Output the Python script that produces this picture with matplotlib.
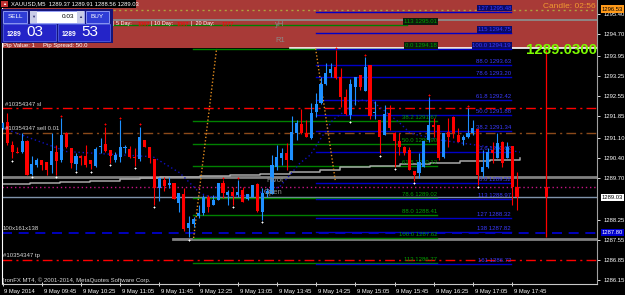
import matplotlib
matplotlib.use("Agg")
import matplotlib.pyplot as plt
from matplotlib.patches import Rectangle

plt.rcParams['font.family'] = ['Liberation Sans', 'DejaVu Sans']

W, H = 625, 295

# ---- XAUUSD M5 candles, bar 0 = 09:05 ----
opens = [1291.43, 1291.66, 1290.85, 1290.62, 1290.62, 1290.97, 1289.84, 1290.16, 1290.33, 1290.27,
         1290.16, 1290.62, 1290.33, 1291.26, 1290.73, 1290.19, 1290.47, 1290.47, 1290.33, 1290.12,
         1290.77, 1290.88, 1290.67, 1290.33, 1290.44, 1290.73, 1290.70, 1290.44, 1290.35, 1291.02,
         1290.77, 1290.35, 1289.35, 1289.63, 1289.46, 1289.52, 1288.85, 1289.15, 1287.96, 1288.10,
         1288.38, 1288.48, 1289.06, 1288.77, 1288.94, 1289.54, 1289.11, 1289.23, 1289.11, 1289.29,
         1288.96, 1289.06, 1289.50, 1288.54, 1289.15, 1289.15, 1290.10, 1290.39, 1290.58, 1290.33,
         1291.28, 1291.58, 1291.25, 1291.08, 1292.00, 1292.29, 1292.97, 1293.34, 1293.54, 1293.20,
         1292.50, 1291.89, 1292.85, 1293.28, 1292.73, 1293.62, 1291.97, 1291.72, 1291.20, 1291.95,
         1291.25, 1291.00, 1290.79, 1290.68, 1289.96, 1289.87, 1290.10, 1291.02, 1291.54, 1291.54,
         1290.44, 1291.31, 1291.83, 1291.20, 1291.02, 1291.14, 1291.25, 1291.39, 1289.92, 1290.10,
         1290.68, 1290.39, 1290.96, 1290.39, 1290.81, 1289.40]
highs = [1291.66, 1291.95, 1290.97, 1290.79, 1291.26, 1291.02, 1290.45, 1290.39, 1290.33, 1290.27,
         1291.26, 1290.85, 1291.78, 1291.31, 1290.73, 1290.56, 1290.50, 1290.85, 1290.33, 1290.79,
         1291.08, 1291.49, 1290.67, 1290.62, 1291.72, 1290.85, 1290.81, 1290.73, 1291.48, 1291.02,
         1290.77, 1290.35, 1289.75, 1289.75, 1289.75, 1289.52, 1289.17, 1289.34, 1288.38, 1288.36,
         1288.77, 1289.11, 1289.12, 1289.12, 1289.52, 1289.63, 1289.29, 1289.40, 1289.63, 1289.40,
         1289.15, 1289.46, 1289.52, 1289.34, 1289.35, 1290.50, 1290.85, 1290.73, 1290.93, 1291.86,
         1291.72, 1292.09, 1291.72, 1292.29, 1292.64, 1293.22, 1293.71, 1293.71, 1294.15, 1293.51,
         1292.78, 1293.13, 1293.22, 1293.28, 1293.89, 1293.62, 1292.38, 1291.72, 1292.24, 1292.24,
         1291.31, 1291.25, 1290.81, 1290.79, 1289.96, 1290.56, 1291.00, 1292.50, 1291.77, 1291.54,
         1291.25, 1291.77, 1291.85, 1291.43, 1291.20, 1292.12, 1291.72, 1291.39, 1290.68, 1290.75,
         1290.95, 1291.28, 1291.00, 1290.96, 1290.81, 1289.92]
lows = [1291.40, 1290.85, 1290.39, 1290.56, 1290.56, 1289.81, 1289.81, 1290.10, 1289.98, 1289.81,
        1289.87, 1289.81, 1290.27, 1290.73, 1290.04, 1289.98, 1290.16, 1290.10, 1290.00, 1290.10,
        1290.58, 1290.62, 1290.24, 1290.27, 1290.27, 1290.56, 1290.39, 1290.12, 1290.30, 1290.77,
        1290.21, 1288.77, 1288.92, 1289.26, 1289.35, 1288.96, 1288.54, 1287.87, 1287.64, 1288.01,
        1288.30, 1288.42, 1288.54, 1288.77, 1288.94, 1289.00, 1288.77, 1288.77, 1289.06, 1288.88,
        1288.94, 1289.06, 1288.54, 1288.25, 1289.05, 1289.15, 1289.98, 1290.15, 1289.98, 1290.33,
        1291.02, 1291.23, 1291.11, 1291.04, 1291.83, 1292.27, 1292.93, 1293.22, 1293.13, 1292.18,
        1291.89, 1291.74, 1292.24, 1292.76, 1292.73, 1291.74, 1291.74, 1290.56, 1291.20, 1291.37,
        1290.10, 1290.50, 1290.50, 1289.98, 1289.61, 1289.69, 1290.10, 1290.95, 1291.14, 1290.33,
        1290.39, 1290.79, 1291.08, 1290.96, 1290.85, 1291.08, 1291.20, 1289.46, 1289.75, 1290.04,
        1290.21, 1290.39, 1290.10, 1290.39, 1288.77, 1288.59]
closes = [1291.60, 1290.91, 1290.62, 1290.58, 1290.97, 1289.81, 1290.19, 1290.33, 1290.16, 1289.98,
          1290.64, 1290.29, 1291.20, 1290.77, 1290.21, 1290.47, 1290.41, 1290.16, 1290.19, 1290.70,
          1290.81, 1290.65, 1290.45, 1290.50, 1290.77, 1290.79, 1290.44, 1290.41, 1291.11, 1290.77,
          1290.39, 1289.35, 1289.69, 1289.43, 1289.52, 1288.96, 1289.17, 1287.92, 1288.13, 1288.27,
          1288.48, 1289.06, 1288.71, 1288.94, 1289.52, 1289.17, 1289.23, 1289.08, 1289.23, 1288.88,
          1289.15, 1289.46, 1288.57, 1289.19, 1289.25, 1290.15, 1290.44, 1290.56, 1290.33, 1291.31,
          1291.62, 1291.25, 1291.14, 1291.97, 1292.27, 1292.97, 1293.34, 1293.47, 1293.16, 1292.53,
          1291.92, 1292.97, 1293.22, 1292.85, 1293.57, 1291.85, 1291.98, 1291.14, 1291.92, 1291.43,
          1290.97, 1290.77, 1290.56, 1289.98, 1289.81, 1290.27, 1290.97, 1291.54, 1291.46, 1290.39,
          1291.25, 1291.14, 1291.25, 1290.96, 1291.14, 1291.26, 1291.43, 1289.81, 1290.10, 1290.62,
          1290.56, 1290.91, 1290.21, 1290.79, 1289.40, 1289.06]

# projected candle on the right
proj_bar = 111
proj_ohlc = (1289.39, 1294.15, 1287.66, 1289.04)

# fractal marks (bar indices)
frac_low = [2, 6, 11, 15, 18, 22, 27, 31, 38, 47, 53, 71, 77, 80, 84, 97]
frac_high = [12, 21, 24, 28, 45, 48, 68, 74, 87, 95]

# x labels every 8 bars
time_labels = ["9 May 2014", "9 May 09:45", "9 May 10:25", "9 May 11:05", "9 May 11:45",
               "9 May 12:25", "9 May 13:05", "9 May 13:45", "9 May 14:25", "9 May 15:05",
               "9 May 15:45", "9 May 16:25", "9 May 17:05", "9 May 17:45"]
price_ticks = [1295.40, 1294.70, 1293.95, 1293.25, 1292.55, 1291.85, 1291.10, 1290.40,
               1289.70, 1288.25, 1287.55, 1286.85, 1286.15]

# order / level lines
sl_price, entry_price, tp_price = 1292.12, 1291.25, 1286.86
bid_price, ask_price = 1289.03, 1289.53
pivot_price, open_price = 1289.75, 1289.39
low_line_price, blue_dash_price = 1287.59, 1287.80
header_low = 1294.21
yh_price, olive_price = 1295.19, 1295.53

# fibonacci sets
green_fib_lbl = ["113 1295.01", "0.0 1294.18", "38.2 1291.67", "50.0 1290.90", "61.8 1290.12",
                 "78.6 1289.02", "88.0 1288.41", "100.0 1287.62", "113 1286.77"]
green_fib_px = [1295.01, 1294.18, 1291.67, 1290.90, 1290.12, 1289.02, 1288.41, 1287.62, 1286.77]
blue_fib_lbl = ["127 1295.48", "115 1294.75", "100.0 1294.19", "88.0 1293.63", "78.6 1293.20",
                "61.8 1292.42", "50.0 1291.88", "38.2 1291.34", "23.6 1290.62", "0.0 1289.52",
                "113 1288.97", "127 1288.32", "138 1287.82", "161 1286.72"]
blue_fib_px = [1295.48, 1294.75, 1294.19, 1293.63, 1293.20, 1292.42, 1291.88, 1291.34, 1290.62,
               1289.52, 1288.97, 1288.32, 1287.82, 1286.72]

# indicator polylines (bar index, price)
dot_t = [0.2, 13.1, 30.7, 36.2, 40.3, 42.3, 50.5, 56.6, 60.7, 62.8, 67.4, 73, 75.6, 81.1, 83.2, 89.3, 99.5, 105.6]
dot_p = [1291.43, 1290.62, 1290.44, 1289.88, 1289.18, 1289.05, 1289.10, 1289.40, 1290.22, 1290.50,
         1291.72, 1292.41, 1292.35, 1291.61, 1291.26, 1291.02, 1290.78, 1290.60]
ma_t = [-0.1, 5.6, 11.7, 17.9, 24, 28.1, 32.1, 40.3, 46.4, 52.6, 58.7, 64.8, 68.9, 75, 81.1, 87.2, 93.4, 99.5, 105.6]
ma_p = [1289.49, 1289.53, 1289.56, 1289.60, 1289.67, 1289.70, 1289.74, 1289.77, 1289.81, 1289.84,
        1289.91, 1289.98, 1290.09, 1290.12, 1290.19, 1290.22, 1290.29, 1290.33, 1290.40]
zz1_t, zz1_p = [39.0, 43.7], [1287.62, 1294.20]
zz2_t, zz2_p = [63.9, 67.9], [1294.20, 1289.63]


def fx(px):
    return px / W


def fy(py):
    return 1 - py / H


fig = plt.figure(figsize=(W / 100, H / 100), dpi=100, facecolor='black')
ax = fig.add_axes([2 / W, 11 / H, 595 / W, 284 / H])
ax.set_facecolor('black')
x_lo, x_hi = (2 - 2.5) / 4.9, (597 - 2.5) / 4.9
ax.set_xlim(x_lo, x_hi)
ax.set_ylim(1286.025, 1295.88)

# header band
ax.axhspan(header_low, 1296.5, color='#a83a37', zorder=0.5, lw=0)
ax.axhline(olive_price, color='#b0a040', ls=(0, (1.5, 2.5)), lw=1, zorder=1)
ax.axhline(yh_price, color='#8c8c8c', lw=1.3, zorder=1)
ax.plot([58.7, x_hi], [header_low, header_low], color='white', lw=1.2, zorder=1)

# full width levels
dashdot = (0, (7, 3, 1.5, 3))
ax.axhline(sl_price, color='red', ls=dashdot, lw=1, zorder=1)
ax.axhline(entry_price, color='#8b4a1a', ls=dashdot, lw=1, zorder=1)
ax.axhline(tp_price, color='red', ls=dashdot, lw=1, zorder=1)
ax.axhline(pivot_price, color='#808080', lw=2, zorder=1)
ax.axhline(open_price, color='#c71585', ls=(0, (1, 2)), lw=1, zorder=1)
ax.axhline(bid_price, color='#7f93aa', lw=1, zorder=1)
ax.axhline(blue_dash_price, color='#0000dd', ls=(0, (6, 4)), lw=1.2, zorder=1)
ax.plot([34.8, x_hi], [low_line_price, low_line_price], color='#808080', lw=2, zorder=1)

# fib lines + labels
g_t0, g_t1 = 38.9, 88.7
for i, (lbl, p) in enumerate(zip(green_fib_lbl, green_fib_px)):
    t0 = x_lo if i == 0 else g_t0
    t1 = 82.5 if i == 0 else g_t1
    ax.plot([t0, t1], [p, p], color='#008000', lw=1, zorder=1.5)
    box = dict(fc='#0c1a0c', ec='none', pad=0.6) if p > header_low - 0.05 else None
    ax.text(g_t1, p + 0.03, lbl, ha='right', va='bottom', fontsize=4.3, color='#00a000',
            bbox=box, zorder=2)
b_t0, b_t1 = 64.0, 103.8
for lbl, p in zip(blue_fib_lbl, blue_fib_px):
    ax.plot([b_t0, b_t1], [p, p], color='#0000c8', lw=1, zorder=1.6)
    box = dict(fc='#0a0a66', ec='none', pad=0.6) if p > header_low - 0.05 else None
    ax.text(b_t1, p + 0.03, lbl, ha='right', va='bottom', fontsize=4.3, color='#3a3aff',
            bbox=box, zorder=2)

# indicators
ax.plot(ma_t, ma_p, drawstyle='steps-post', color='#a8a8a8', lw=1.1, zorder=1.8)
ax.plot(dot_t, dot_p, color='#1010c0', ls=(0, (1, 2)), lw=1, zorder=1.8)
ax.plot(zz1_t, zz1_p, color='#e08a1e', ls=(0, (1, 1.5)), lw=1, zorder=1.8)
ax.plot(zz2_t, zz2_p, color='#e08a1e', ls=(0, (1, 1.5)), lw=1, zorder=1.8)

# candles
for t, (o, h, l, c) in enumerate(zip(opens, highs, lows, closes)):
    col = '#1e90ff' if c >= o else '#ff0000'
    ax.vlines(t, l, h, color=col, lw=0.8, zorder=3)
    ax.bar(t, max(abs(c - o), 0.03), bottom=min(o, c), width=0.62, color=col, lw=0, zorder=3)
po, ph, pl, pc = proj_ohlc
ax.vlines(proj_bar, pl, ph, color='red', lw=0.9, zorder=3)
ax.bar(proj_bar, po - pc, bottom=pc, width=0.62, color='red', lw=0, zorder=3)

ax.plot(frac_low, [lows[i] - 0.08 for i in frac_low], '+', color='white', ms=1.8, mew=0.7, zorder=3.5)
ax.plot(frac_high, [highs[i] + 0.08 for i in frac_high], '+', color='red', ms=1.8, mew=0.7, zorder=3.5)

# axes styling
ax.spines['top'].set_visible(False)
ax.spines['left'].set_color('white')
ax.spines['bottom'].set_color('#c8c8c8')
ax.spines['right'].set_color('#a0a0a0')
ax.yaxis.tick_right()
ax.set_yticks(price_ticks)
ax.set_yticklabels([f"{p:.2f}" for p in price_ticks])
ax.tick_params(axis='y', colors='white', labelsize=4.2, length=2, width=0.6, pad=2.5)
ticks_t = [8 * k for k in range(len(time_labels))]
ax.set_xticks(ticks_t)
ax.set_xticklabels([])
ax.tick_params(axis='x', colors='white', length=3, width=0.6, direction='inout')
for t, lbl in zip(ticks_t, time_labels):
    ax.text(t + 0.4, -0.018, lbl, transform=ax.get_xaxis_transform(), ha='left', va='top',
            fontsize=4.2, color='white', clip_on=False)


# right-side price boxes
def price_box(p, s, fc, tc):
    ax.text(1.008, p, s, transform=ax.get_yaxis_transform(), ha='left', va='center',
            fontsize=4.2, color=tc, bbox=dict(fc=fc, ec='none', pad=0.8), clip_on=False, zorder=5)


price_box(bid_price, "1289.03", 'white', 'black')
price_box(blue_dash_price, "1287.80", '#0000cd', 'white')
ax.text(1.008, 0.968, "1296.53", transform=ax.transAxes, ha='left', va='center', fontsize=4.2,
        color='black', bbox=dict(fc='#ff9a1a', ec='none', pad=0.8), clip_on=False, zorder=5)

# chart texts
txt = dict(color='#d8d8d8', fontsize=4.3, ha='left', va='center', zorder=12)
fig.text(fx(5), fy(104), "#10354347 sl", **txt)
fig.text(fx(5), fy(129), "#10354347 sell 0.01", **txt)
fig.text(fx(3), fy(228), "100x161x138", **txt)
fig.text(fx(3), fy(255), "#10354347 tp", **txt)
fig.text(fx(3), fy(280), "IronFX MT4, \u00a9 2001-2014, MetaQuotes Software Corp.", **txt)
fig.text(fx(266), fy(180), "Pivot", color='#8c8c8c', fontsize=5.5, ha='left', va='center', zorder=1)
fig.text(fx(264), fy(192), "Open", color='#8c8c8c', fontsize=5.5, ha='left', va='center', zorder=1)
fig.text(fx(275), fy(24), "yH", color='#8a8a8a', fontsize=5.5, ha='left', va='center', zorder=12)
fig.text(fx(275), fy(40), "R1", color='#8a8a8a', fontsize=5.5, ha='left', va='center', zorder=12)
fig.text(fx(597), fy(50), "1289.0300", color='#7cfc00', fontsize=10.8, fontweight='bold',
         ha='right', va='center', zorder=12)
fig.text(fx(596), fy(7), "Candle: 02:56", color='#f09a30', fontsize=6, ha='right', va='center', zorder=12)

# day ranges in header
hdr = [(113, "| 5 Day:", 'white'), (138, "1067", 'red'), (151, "| 10 Day:", 'white'),
       (177, "1067", 'red'), (191, "|  20 Day:", 'white'), (222, "1277", 'red')]
for x, s, c in hdr:
    fig.text(fx(x), fy(24), s, color=c, fontsize=4.0, ha='left', va='center', zorder=12)


# trade panel (top-left)
def rect(x0, y0, x1, y1, fc, ec='none', lw=0.6, z=10):
    fig.add_artist(Rectangle((fx(x0), fy(y1)), (x1 - x0) / W, (y1 - y0) / H,
                             transform=fig.transFigure, fc=fc, ec=ec, lw=lw, zorder=z))


rect(0, 0, 136, 8, 'black')
rect(1, 1, 8, 7, '#c03030')
fig.text(fx(2.2), fy(4.2), "\u25b2", color='white', fontsize=3, ha='left', va='center', zorder=12)
fig.text(fx(11), fy(4.2), "XAUUSD,M5  1289.37 1289.91 1288.56 1289.03", color='white',
         fontsize=4.2, ha='left', va='center', zorder=12)
rect(1, 9, 113, 43, '#15157a')
rect(3, 11, 27, 23, '#2f3dd6', ec='#9aa6ff')
fig.text(fx(15), fy(17), "SELL", color='white', fontsize=4.6, ha='center', va='center', zorder=12)
rect(30, 11, 84, 23, 'white', ec='#9aa6ff')
rect(30, 11, 37, 23, '#c9cde8')
rect(77, 11, 84, 23, '#c9cde8')
fig.text(fx(33.5), fy(17), "\u25bc", color='#303070', fontsize=3, ha='center', va='center', zorder=12)
fig.text(fx(80.5), fy(17), "\u25b2", color='#303070', fontsize=3, ha='center', va='center', zorder=12)
fig.text(fx(74), fy(17), "0.03", color='black', fontsize=4.6, ha='right', va='center', zorder=12)
rect(86, 11, 109, 23, '#2f3dd6', ec='#9aa6ff')
fig.text(fx(97.5), fy(17), "BUY", color='white', fontsize=4.6, ha='center', va='center', zorder=12)
rect(3, 24, 56, 41, '#2424c8', ec='#5060e0')
rect(58, 24, 110, 41, '#2424c8', ec='#5060e0')
fig.text(fx(7), fy(35), "1289", color='white', fontsize=4.8, fontweight='bold', ha='left', va='center', zorder=12)
fig.text(fx(26), fy(32.5), "03", color='white', fontsize=11, ha='left', va='center', zorder=12)
fig.text(fx(62), fy(35), "1289", color='white', fontsize=4.8, fontweight='bold', ha='left', va='center', zorder=12)
fig.text(fx(81), fy(32.5), "53", color='white', fontsize=11, ha='left', va='center', zorder=12)
fig.text(fx(3), fy(45.5), "Pip Value: 1     Pip Spread: 50.0", color='white', fontsize=4.3,
         ha='left', va='center', zorder=12)

fig.savefig("out.png", dpi=100, facecolor='black')
